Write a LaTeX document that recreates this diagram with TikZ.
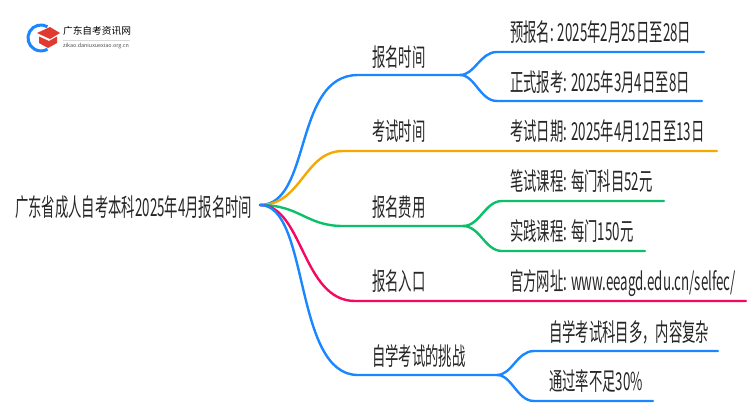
\documentclass[tikz,border=0pt]{standalone}
\usepackage{fontspec}
\setmainfont[FakeStretch=0.54]{Noto Sans CJK SC}
\newfontfamily\logofont{Noto Sans CJK SC}
\definecolor{mapblue}{HTML}{1A86FF}
\definecolor{maporange}{HTML}{F5A800}
\definecolor{mapgreen}{HTML}{0CC06A}
\definecolor{mappink}{HTML}{F5085F}
\definecolor{logored}{HTML}{E0392F}
\tikzset{
  label/.style={anchor=west,inner sep=0pt,font=\fontsize{24.7}{25}\selectfont,text=black!85},
  wire/.style={line width=2.4pt,line cap=round},
}
\begin{document}
\begin{tikzpicture}[x=1pt,y=-1pt]
  \useasboundingbox (0,0) rectangle (750,410);

  % logo
  \draw[mapblue,line width=3pt] (47.5,26.7) arc[start angle=-60,end angle=-300,radius=13];
  \fill[logored] (50,27) -- (60,33) -- (50,39) -- (37,33) -- cycle;
  \fill[logored] (39,36.5) -- (49,41) -- (57,36.5) -- (57,43) -- (48,48) -- (39,43) -- cycle;
  \node (logoname) at (97,31) [inner sep=0pt,font=\logofont\fontsize{9.7}{10}\selectfont] {广东自考资讯网};
  \node (logourl) at (96,46) [inner sep=0pt,font=\logofont\fontsize{5.4}{6}\selectfont,text=black!70] {zikao.daniuxuexiao.org.cn};
  \draw[black!15,line width=.5pt] (63,40) -- (130,40);

  % root and branch labels
  \node (root) at (15,207) [label] {广东省成人自考本科2025年4月报名时间};
  \coordinate (hub) at (260,205);
  \node (time) at (372,57) [label] {报名时间};
  \node (exam) at (372,131) [label] {考试时间};
  \node (fee) at (372,207) [label] {报名费用};
  \node (entry) at (372,281) [label] {报名入口};
  \node (hard) at (372,356) [label] {自学考试的挑战};

  % leaf labels
  \node (pre) at (510,32) [label] {预报名: 2025年2月25日至28日};
  \node (formal) at (510,82) [label] {正式报考: 2025年3月4日至8日};
  \node (date) at (510,131) [label] {考试日期: 2025年4月12日至13日};
  \node (written) at (510,181) [label] {笔试课程: 每门科目52元};
  \node (practice) at (510,231) [label] {实践课程: 每门150元};
  \node (site) at (510,283) [label] {官方网址: www.eeagd.edu.cn/selfec/};
  \node (many) at (549,332) [label] {自学考试科目多，内容复杂};
  \node (rate) at (549,381) [label] {通过率不足30\%};

  % line ends
  \coordinate (timeend) at (460,75);
  \coordinate (feeend) at (463,226);
  \coordinate (hardend) at (497,375);
  \coordinate (preend) at (704,52);
  \coordinate (formalend) at (702,101);
  \coordinate (dateend) at (717,151);
  \coordinate (writtenend) at (664,201);
  \coordinate (practiceend) at (645,251);
  \coordinate (siteend) at (746,301);
  \coordinate (manyend) at (718,351);
  \coordinate (rateend) at (653,401);

  % branches
  \draw[wire,mapblue] (hub) .. controls (312,205) and (293,75) .. (358,75) -- (timeend);
  \draw[wire,mapblue] (timeend) .. controls (475,75) and (480,52) .. (497,52) -- (preend);
  \draw[wire,mapblue] (timeend) .. controls (475,75) and (480,101) .. (497,101) -- (formalend);
  \draw[wire,maporange] (hub) .. controls (302,205) and (304,151) .. (343,151) -- (dateend);
  \draw[wire,mapgreen] (hub) .. controls (300,205) and (306,226) .. (343,226) -- (feeend);
  \draw[wire,mapgreen] (feeend) .. controls (480,226) and (485,201) .. (502,201) -- (writtenend);
  \draw[wire,mapgreen] (feeend) .. controls (480,226) and (485,251) .. (502,251) -- (practiceend);
  \draw[wire,mappink] (hub) .. controls (303,205) and (302,301) .. (355,301) -- (siteend);
  \draw[wire,mapblue] (hub) .. controls (310,205) and (293,375) .. (358,375) -- (hardend);
  \draw[wire,mapblue] (hardend) .. controls (512,375) and (517,351) .. (534,351) -- (manyend);
  \draw[wire,mapblue] (hardend) .. controls (512,375) and (517,401) .. (534,401) -- (rateend);
\end{tikzpicture}
\end{document}
